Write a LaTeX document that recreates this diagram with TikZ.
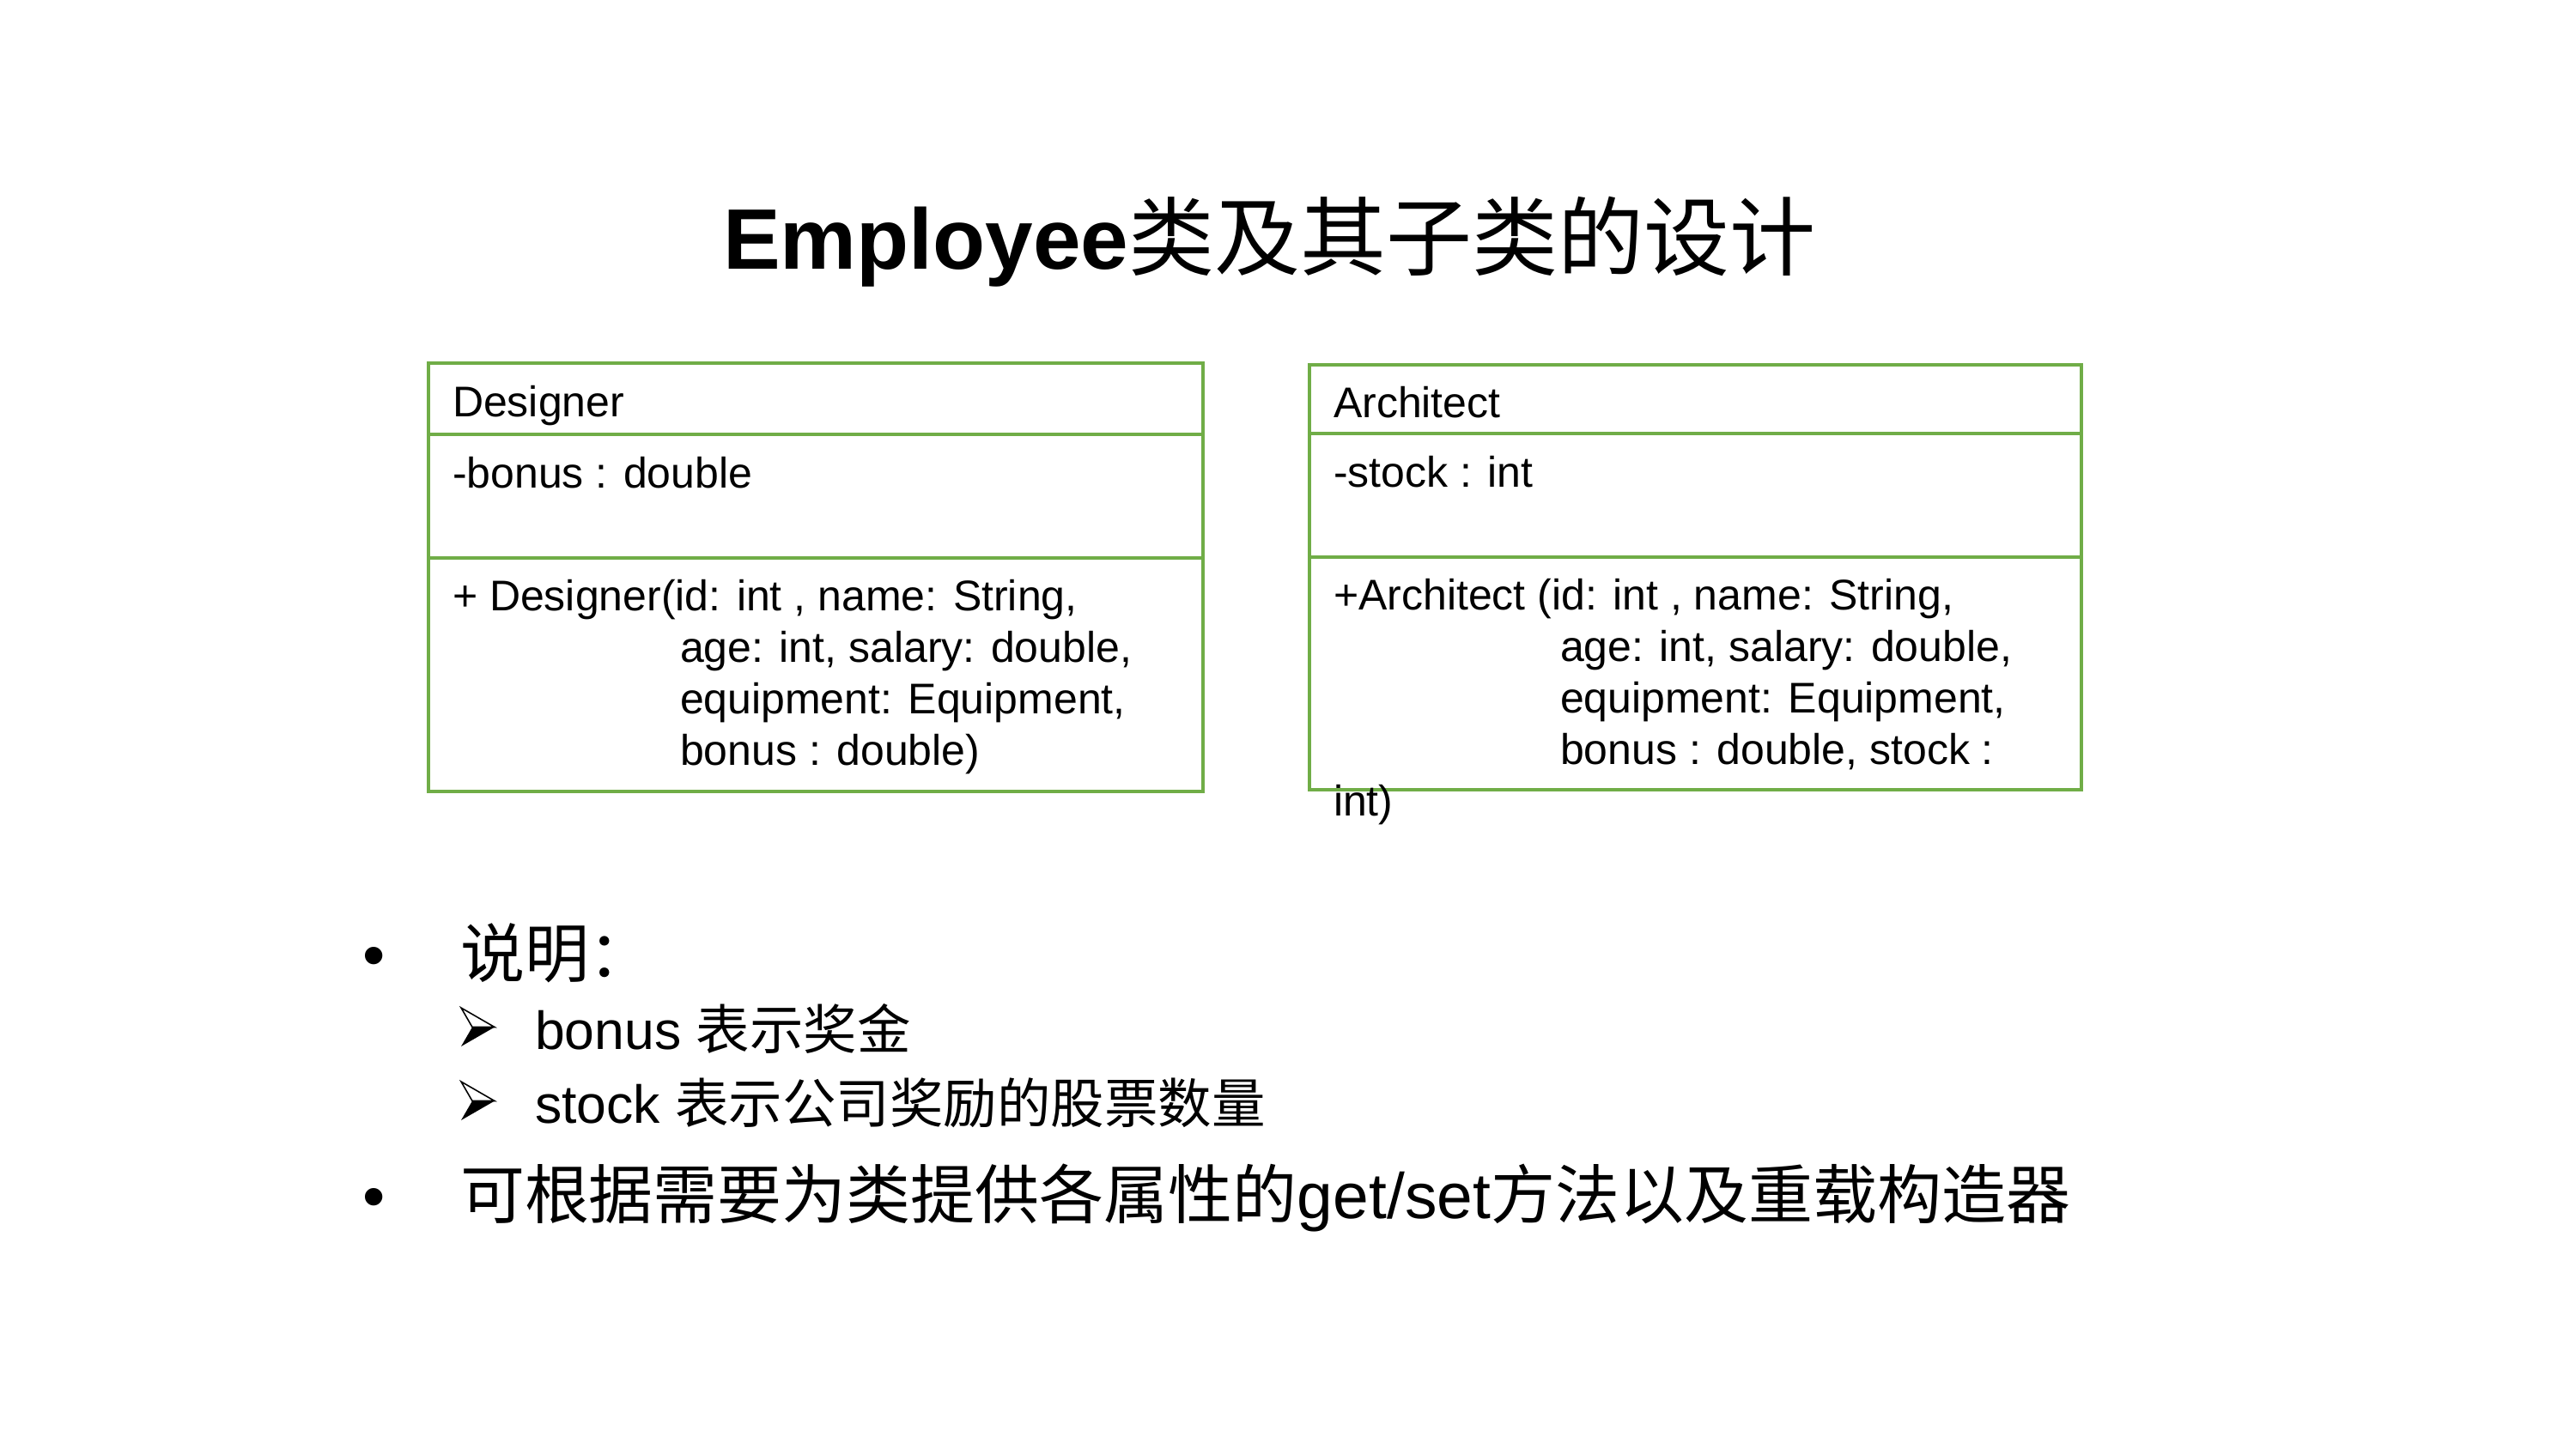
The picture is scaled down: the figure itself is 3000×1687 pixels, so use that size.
\documentclass[tikz,border=0pt]{standalone}
\usepackage{tikz}
\usepackage{fontspec}
\setmainfont{Liberation Sans}
\newfontfamily\cjk{Noto Sans CJK SC}
\definecolor{umlgreen}{HTML}{70AD47}
\begin{document}
\begin{tikzpicture}[x=0.32pt,y=-0.32pt,
  compartment/.style={draw=umlgreen,line width=1.3pt},
  txt/.style={anchor=base west,inner sep=0pt,outer sep=0pt},
  boxtext/.style={txt,font=\fontsize{16pt}{19.2pt}\selectfont},
  titletext/.style={txt,font=\fontsize{32pt}{38pt}\selectfont},
  mainitem/.style={txt,font=\fontsize{24pt}{29pt}\selectfont},
  subitem/.style={txt,font=\fontsize{20pt}{24pt}\selectfont},
  mainbullet/.style={anchor=base,inner sep=0pt,font=\fontsize{24pt}{29pt}\selectfont},
  arrowmark/.pic={
    % three-dimensional arrowhead: open upper half, filled lower half
    \draw[line width=0.5pt,line join=miter] (0,0) -- (39,22.5) -- (13,22.5) -- cycle;
    \fill (13,22.5) -- (39,22.5) -- (0,45) -- cycle;
  }]
\useasboundingbox (0,0) rectangle (3000,1687);

% title
\node[titletext] (title) at (842,313) {\textbf{Employee}{\cjk 类及其子类的设计}};

% class Designer
\draw[compartment] (499,423) rectangle (1401,506);
\draw[compartment] (499,506) rectangle (1401,650);
\draw[compartment] (499,650) rectangle (1401,922);
\node[boxtext] (dname) at (527,485) {Designer};
\node[boxtext] (dattr) at (527,568) {-bonus : double};
\node[boxtext] (dop1) at (527,711) {+ Designer(id: int , name: String,};
\node[boxtext] (dop2) at (792,771) {age: int, salary: double,};
\node[boxtext] (dop3) at (792,831) {equipment: Equipment,};
\node[boxtext] (dop4) at (792,891) {bonus : double)};

% class Architect
\draw[compartment] (1525,425) rectangle (2424,505);
\draw[compartment] (1525,505) rectangle (2424,649);
\draw[compartment] (1525,649) rectangle (2424,920);
\node[boxtext] (aname) at (1553,486) {Architect};
\node[boxtext] (aattr) at (1553,567) {-stock : int};
\node[boxtext] (aop1) at (1553,710) {+Architect (id: int , name: String,};
\node[boxtext] (aop2) at (1817,770) {age: int, salary: double,};
\node[boxtext] (aop3) at (1817,830) {equipment: Equipment,};
\node[boxtext] (aop4) at (1817,890) {bonus : double, stock :};
\node[boxtext] (aop5) at (1553,950) {int)};

% notes
\node[mainbullet] (b1) at (436,1138) {•};
\node[mainitem] (note) at (536,1138) {\cjk 说明：};
\pic at (537,1174) {arrowmark};
\node[subitem] (bonusnote) at (623,1222) {bonus {\cjk 表示奖金}};
\pic at (537,1260) {arrowmark};
\node[subitem] (stocknote) at (623,1308) {stock {\cjk 表示公司奖励的股票数量}};
\node[mainbullet] (b2) at (436,1419) {•};
\node[mainitem] (methods) at (536,1419) {{\cjk 可根据需要为类提供各属性的}get/set{\cjk 方法以及重载构造器}};
\end{tikzpicture}
\end{document}
